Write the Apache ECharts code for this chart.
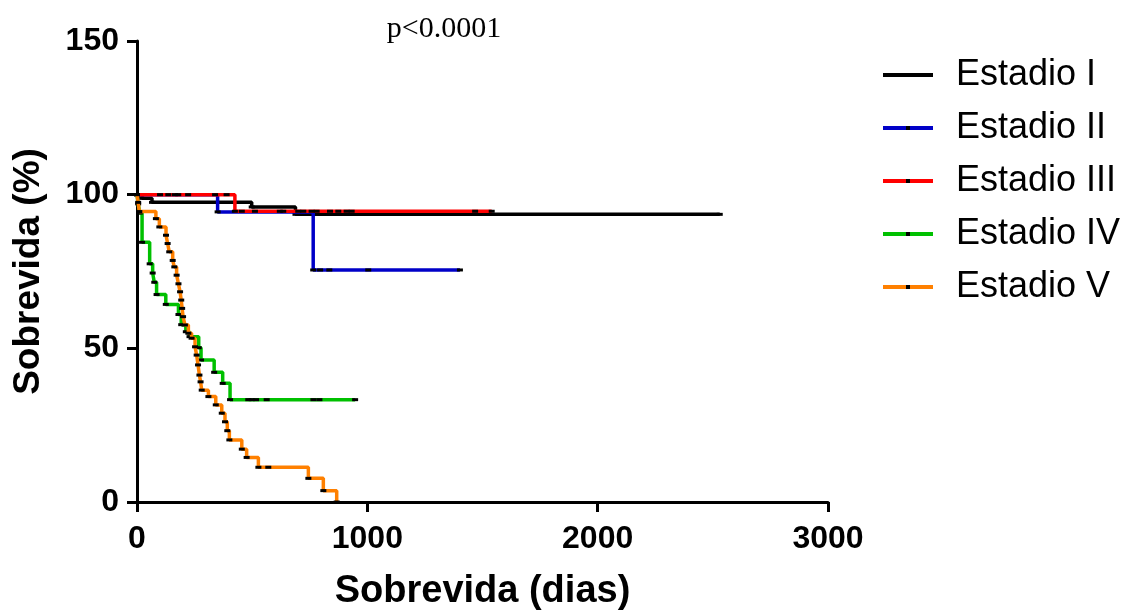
<!DOCTYPE html>
<html>
<head>
<meta charset="utf-8">
<script src="https://cdn.jsdelivr.net/npm/echarts@6/dist/echarts.min.js"></script>
<style>
  html, body { margin: 0; padding: 0; background: #fff; }
  #main { width: 1126px; height: 610px; }
</style>
</head>
<body>
<div id="main"></div>
<script>
// curvas de Kaplan-Meier: [dia, % sobrevida] en cada caída
var names = ['Estadio I', 'Estadio II', 'Estadio III', 'Estadio IV', 'Estadio V'];
var colors = ['#000000', '#0000c8', '#ff0000', '#00c000', '#ff8000'];

var stageI = [[0, 100], [22, 98.8], [65, 97.5], [498, 96.0], [688, 93.6], [2530, 93.6]];
var stageII = [[0, 100], [350, 94.4], [765, 75.5], [1402, 75.5]];
var stageIII = [[0, 100], [425, 94.6], [1540, 94.6]];
var stageIV = [[0, 100], [5, 97], [12, 94], [22, 84.5], [55, 77.5], [68, 74.5], [75, 71.5],
    [85, 67.5], [125, 64.3], [180, 61.0], [192, 57.7], [212, 55.4], [228, 53.8], [268, 50.2],
    [278, 46.2], [335, 42.2], [372, 38.6], [404, 33.3], [947, 33.3]];
var stageV = [[0, 100], [5, 97.5], [10, 94.5], [82, 92.2], [97, 89.5], [126, 86.8], [133, 84.1],
    [140, 81.4], [155, 78.6], [162, 76.5], [172, 73.8], [180, 71.0], [187, 68.4], [192, 65.7],
    [196, 63.0], [200, 60.3], [208, 57.6], [223, 54.9], [237, 53.3], [252, 50.5], [259, 47.8],
    [265, 44.6], [271, 41.3], [276, 39.1], [281, 36.4], [310, 34.3], [342, 31.6], [368, 28.9],
    [382, 26.1], [392, 23.2], [401, 20.2], [455, 17.2], [476, 14.5], [527, 11.3], [744, 7.7],
    [809, 3.7], [867, 0]];

// censurados (dias)
var censI = [];
var censII = [795, 835, 1004];
var censIII = [100, 136, 165, 179, 222, 339, 389, 455, 512, 620, 635, 700, 722, 758, 780,
    838, 874, 910, 932, 1468];
var censIV = [483, 498, 517, 563, 766, 792];
var censV = [570];

var curves = [stageI, stageII, stageIII, stageIV, stageV];
var censors = [censI, censII, censIII, censIV, censV];

function survAt(curve, t) {
    var v = curve[0][1];
    for (var i = 0; i < curve.length; i++) {
        if (curve[i][0] <= t) v = curve[i][1];
    }
    return v;
}

function withCensors(curve, cens) {
    var pts = curve.slice();
    cens.forEach(function (t) { pts.push([t, survAt(curve, t)]); });
    pts.sort(function (a, b) { return a[0] - b[0]; });
    return pts;
}

var chart = echarts.init(document.getElementById('main'));
var font = "'Liberation Sans', Arial, sans-serif";

var series = [];
for (var i = 0; i < names.length; i++) {
    series.push({
        name: names[i],
        type: 'line',
        step: 'end',
        data: withCensors(curves[i], censors[i]),
        symbol: 'rect',
        symbolSize: [6, 3],
        showSymbol: true,
        itemStyle: { color: '#000' },
        lineStyle: { color: colors[i], width: 3.5 },
        z: 2 + i
    });
}

var option = {
    animation: false,
    title: {
        text: 'p<0.0001',
        left: 439,
        textAlign: 'center',
        top: 9,
        textStyle: { fontFamily: "'Liberation Serif', 'Times New Roman', serif", fontSize: 30, fontWeight: 'normal', color: '#000' }
    },
    legend: {
        orient: 'vertical',
        left: 876,
        top: 52,
        itemWidth: 50,
        itemHeight: 5,
        itemGap: 17,
        data: names,
        lineStyle: { width: 4 },
        textStyle: { fontFamily: font, fontSize: 36, color: '#000', lineHeight: 36, padding: [0, 0, 0, 18] }
    },
    grid: { left: 137, right: 298, top: 41, bottom: 108, outerBoundsMode: 'none', containLabel: false },
    xAxis: {
        type: 'value',
        min: 0,
        max: 3000,
        interval: 1000,
        name: 'Sobrevida (dias)',
        nameLocation: 'middle',
        nameGap: 71,
        nameTextStyle: { fontFamily: font, fontSize: 38, fontWeight: 'bold', color: '#000' },
        axisLine: { onZero: false, lineStyle: { color: '#000', width: 3 } },
        axisTick: { length: 10, lineStyle: { width: 3, color: '#000' } },
        axisLabel: {
            margin: 21, fontFamily: font, fontSize: 32, fontWeight: 'bold', color: '#000',
            formatter: function (v) { return String(v); }
        },
        splitLine: { show: false }
    },
    yAxis: {
        type: 'value',
        min: 0,
        max: 150,
        interval: 50,
        name: 'Sobrevida (%)',
        nameLocation: 'middle',
        nameGap: 90,
        nameTextStyle: { fontFamily: font, fontSize: 37, fontWeight: 'bold', color: '#000' },
        axisLine: { show: true, onZero: false, lineStyle: { color: '#000', width: 3 } },
        axisTick: { show: true, length: 10, lineStyle: { width: 3, color: '#000' } },
        axisLabel: { margin: 18, fontFamily: font, fontSize: 32, fontWeight: 'bold', color: '#000' },
        splitLine: { show: false }
    },
    series: series
};

chart.setOption(option);
</script>
</body>
</html>
